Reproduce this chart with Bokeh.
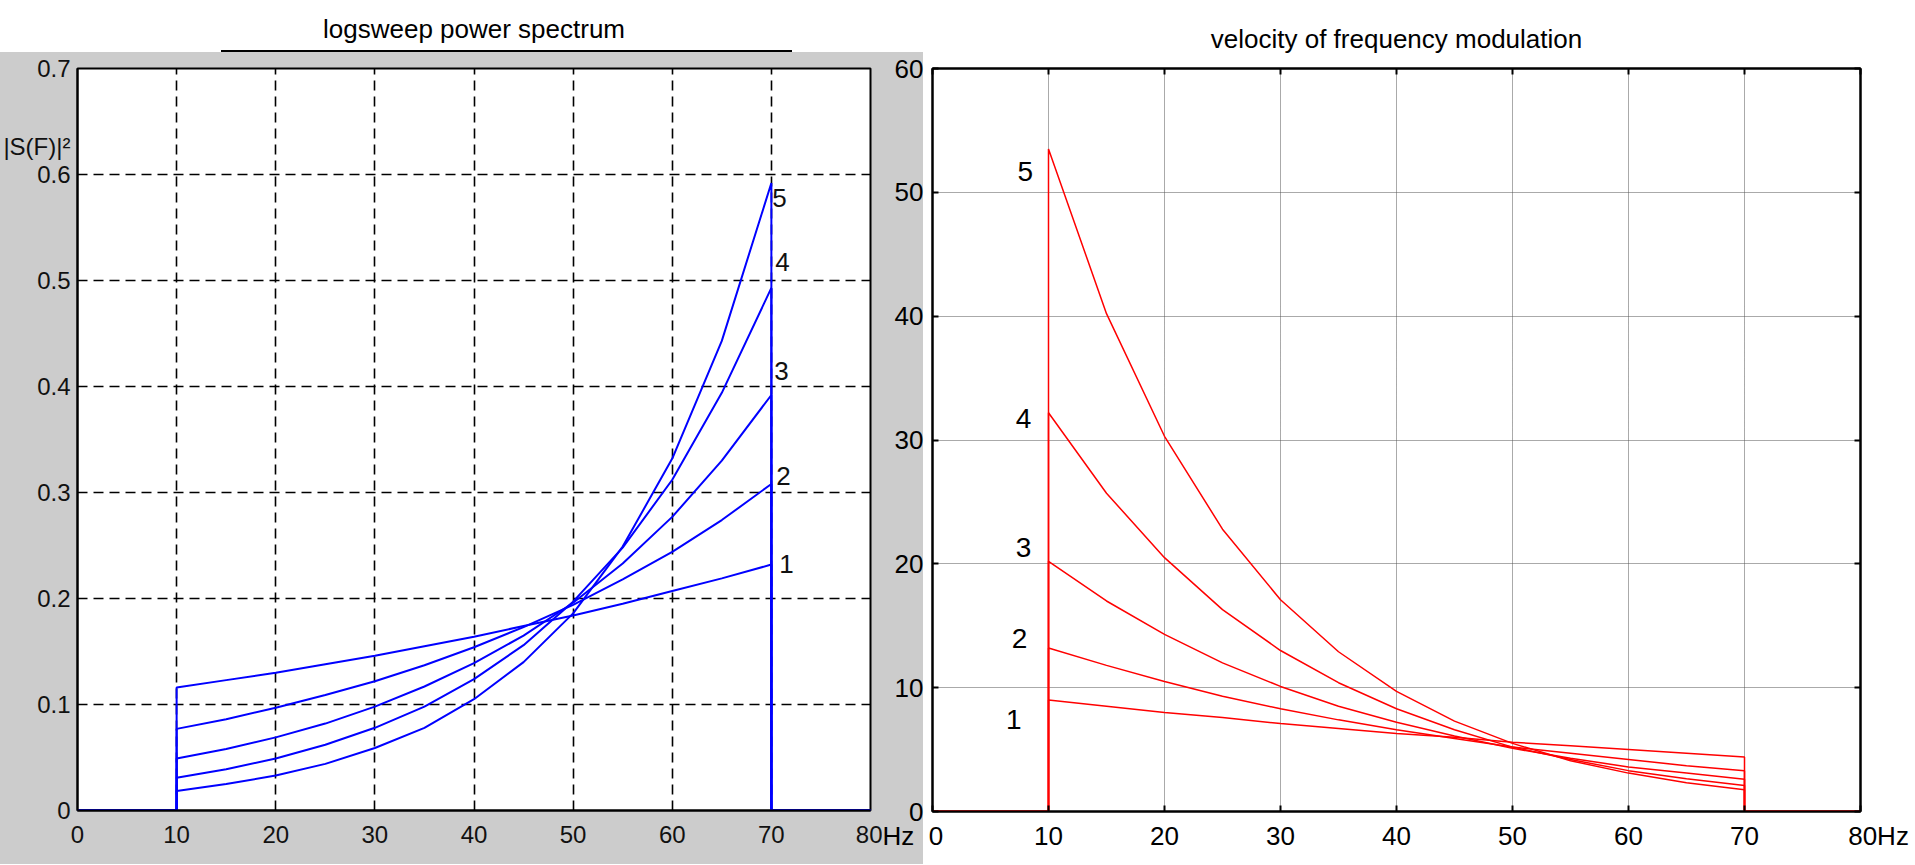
from bokeh.plotting import figure
from bokeh.models import FixedTicker, Label, LinearAxis, Range1d
from bokeh.layouts import row
from bokeh.embed import file_html
from bokeh.resources import INLINE

# ---------------- data ----------------
freq_hz = [10, 15, 20, 25, 30, 35, 40, 45, 50, 55, 60, 65, 70]
band_edges_hz = [0, 80]

power_1 = [0.116, 0.123, 0.130, 0.138, 0.146, 0.155, 0.164, 0.174, 0.184, 0.195, 0.207, 0.219, 0.232]
power_2 = [0.077, 0.086, 0.097, 0.109, 0.122, 0.137, 0.154, 0.173, 0.194, 0.218, 0.244, 0.274, 0.308]
power_3 = [0.049, 0.058, 0.069, 0.082, 0.098, 0.117, 0.139, 0.165, 0.196, 0.233, 0.277, 0.330, 0.392]
power_4 = [0.031, 0.039, 0.049, 0.062, 0.078, 0.098, 0.124, 0.156, 0.197, 0.248, 0.312, 0.394, 0.493]
power_5 = [0.0185, 0.025, 0.033, 0.044, 0.059, 0.078, 0.105, 0.140, 0.186, 0.249, 0.332, 0.443, 0.592]

velocity_1 = [9.0, 8.5, 8.0, 7.6, 7.1, 6.7, 6.3, 6.0, 5.6, 5.3, 5.0, 4.7, 4.4]
velocity_2 = [13.2, 11.8, 10.5, 9.3, 8.3, 7.4, 6.6, 5.9, 5.2, 4.7, 4.2, 3.7, 3.3]
velocity_3 = [20.2, 17.0, 14.3, 12.0, 10.1, 8.5, 7.2, 6.1, 5.1, 4.3, 3.6, 3.1, 2.6]
velocity_4 = [32.2, 25.7, 20.5, 16.3, 13.0, 10.4, 8.3, 6.6, 5.2, 4.2, 3.3, 2.65, 2.1]
velocity_5 = [53.5, 40.2, 30.3, 22.8, 17.1, 12.9, 9.7, 7.3, 5.5, 4.1, 3.1, 2.33, 1.75]

curve_names = ["1", "2", "3", "4", "5"]

x_ticks = [0, 10, 20, 30, 40, 50, 60, 70, 80]
x_tick_labels = ["0", "10", "20", "30", "40", "50", "60", "70", "80"]
power_ticks = [0, 0.1, 0.2, 0.3, 0.4, 0.5, 0.6, 0.7]
power_tick_labels = ["0", "0.1", "0.2", "0.3", "0.4", "0.5", "0.6", "0.7"]
velocity_ticks = [0, 10, 20, 30, 40, 50, 60]
velocity_tick_labels = ["0", "10", "20", "30", "40", "50", "60"]

left_title = "logsweep power spectrum"
right_title = "velocity of frequency modulation"
left_ylabel = "|S(F)|\u00b2"
unit_label = "Hz"

power_curves = [power_1, power_2, power_3, power_4, power_5]
velocity_curves = [velocity_1, velocity_2, velocity_3, velocity_4, velocity_5]

# ---------------- styles ----------------
SANS = "Liberation Sans"
GRAY = "#cccccc"
NBSP = "\u00a0"


def full_path(vals):
    xs = [band_edges_hz[0], freq_hz[0]] + freq_hz + [freq_hz[-1], band_edges_hz[1]]
    ys = [0, 0] + list(vals) + [0, 0]
    return xs, ys


def spacer_axis(ticks, height):
    """An invisible axis that only reserves room between the frame and the title."""
    return LinearAxis(ticker=FixedTicker(ticks=ticks),
                      major_label_overrides={t: "" for t in ticks},
                      major_label_standoff=0, major_tick_in=0, major_tick_out=height,
                      major_tick_line_color=None, minor_tick_line_color=None,
                      axis_line_color=None)


# ---------------- left: power spectrum ----------------
p1 = figure(frame_width=793, frame_height=742,
            x_range=Range1d(x_ticks[0], x_ticks[-1]),
            y_range=Range1d(power_ticks[0], power_ticks[-1]),
            output_backend="svg", toolbar_location=None,
            min_border_left=75, min_border_right=12,
            min_border_top=68, min_border_bottom=54,
            border_fill_color=None, background_fill_color="white",
            outline_line_color="black", outline_line_width=2)

p1.add_layout(spacer_axis(x_ticks, 17), "above")

p1.title.text = left_title
p1.title.align = "center"
p1.title.offset = -10
p1.title.text_font = SANS
p1.title.text_font_size = "26px"
p1.title.text_font_style = "normal"
p1.title.text_color = "black"
p1.title.standoff = 16

# y label of the left panel sits as a horizontal text beside the axis, just under 0.7
ylabel_level = 0.626
p1.below[0].ticker = FixedTicker(ticks=x_ticks)
p1.below[0].major_label_overrides = dict(zip(x_ticks, x_tick_labels))
p1.yaxis.ticker = FixedTicker(ticks=power_ticks + [ylabel_level])
ylab = dict(zip(power_ticks, power_tick_labels))
ylab[ylabel_level] = left_ylabel
p1.yaxis.major_label_overrides = ylab
for ax in (p1.below[0], p1.left[0]):
    ax.major_label_text_font = SANS
    ax.major_label_text_font_size = "24px"
    ax.major_label_text_color = "#111111"
    ax.major_tick_in = 0
    ax.major_tick_out = 0
    ax.minor_tick_line_color = None
    ax.axis_line_color = "black"
    ax.axis_line_width = 2
p1.below[0].major_label_standoff = 15
p1.left[0].major_label_standoff = 7

p1.xgrid.ticker = FixedTicker(ticks=x_ticks)
p1.ygrid.ticker = FixedTicker(ticks=power_ticks)
for g in (p1.xgrid, p1.ygrid):
    g.grid_line_color = "black"
    g.grid_line_dash = "10 6"
    g.grid_line_width = 1.6

for vals in power_curves:
    xs, ys = full_path(vals)
    p1.line(xs, ys, line_color="#0000ff", line_width=2)

power_label_x = [70.8, 70.5, 70.3, 70.4, 70.1]
power_label_y = [0.233, 0.316, 0.415, 0.517, 0.578]
for name, lx, ly in zip(curve_names, power_label_x, power_label_y):
    p1.add_layout(Label(x=lx, y=ly, text=name, text_font=SANS, text_font_size="26px",
                        text_color="#111111", text_align="left", text_baseline="middle"))

# ---------------- right: velocity of frequency modulation ----------------
p2 = figure(frame_width=928, frame_height=743,
            x_range=Range1d(x_ticks[0], x_ticks[-1]),
            y_range=Range1d(velocity_ticks[0], velocity_ticks[-1]),
            output_backend="svg", toolbar_location=None,
            min_border_left=50, min_border_right=56,
            min_border_top=64, min_border_bottom=57,
            border_fill_color=None, background_fill_color="white",
            outline_line_color="black", outline_line_width=2)

top_ticks_axis = LinearAxis()
right_ticks_axis = LinearAxis()
p2.add_layout(top_ticks_axis, "above")
p2.add_layout(spacer_axis(x_ticks, 7), "above")
p2.add_layout(right_ticks_axis, "right")

p2.title.text = right_title
p2.title.align = "center"
p2.title.text_font = SANS
p2.title.text_font_size = "26px"
p2.title.text_font_style = "normal"
p2.title.text_color = "black"
p2.title.standoff = 16

# bottom labels: the "Hz" unit of both panels rides with the first / last labels
bottom_labels = list(x_tick_labels)
bottom_labels[0] = unit_label + NBSP * 2 + x_tick_labels[0] + NBSP * 6
bottom_labels[-1] = NBSP * 5 + x_tick_labels[-1] + unit_label

bottom_axis = p2.below[0]
left_axis = p2.left[0]
for ax in (bottom_axis, top_ticks_axis):
    ax.ticker = FixedTicker(ticks=x_ticks)
for ax in (left_axis, right_ticks_axis):
    ax.ticker = FixedTicker(ticks=velocity_ticks)
bottom_axis.major_label_overrides = dict(zip(x_ticks, bottom_labels))
left_axis.major_label_overrides = dict(zip(velocity_ticks, velocity_tick_labels))
top_ticks_axis.major_label_overrides = {t: "" for t in x_ticks}
right_ticks_axis.major_label_overrides = {t: "" for t in velocity_ticks}
for ax in (bottom_axis, left_axis, top_ticks_axis, right_ticks_axis):
    ax.major_label_text_font = SANS
    ax.major_label_text_font_size = "26px"
    ax.major_label_text_color = "black"
    ax.major_tick_in = 6
    ax.major_tick_out = 0
    ax.major_tick_line_color = "black"
    ax.major_tick_line_width = 2
    ax.minor_tick_line_color = None
    ax.axis_line_color = "black"
    ax.axis_line_width = 2
top_ticks_axis.major_label_standoff = 0
right_ticks_axis.major_label_standoff = 0
bottom_axis.major_label_standoff = 9
left_axis.major_label_standoff = 9

p2.xgrid.ticker = FixedTicker(ticks=x_ticks)
p2.ygrid.ticker = FixedTicker(ticks=velocity_ticks)
for g in (p2.xgrid, p2.ygrid):
    g.grid_line_color = "#555555"
    g.grid_line_dash = "1 1"
    g.grid_line_width = 1

for vals in velocity_curves:
    xs, ys = full_path(vals)
    p2.line(xs, ys, line_color="#ff0000", line_width=1.5)

velocity_label_x = [7.0, 7.5, 7.85, 7.85, 8.0]
velocity_label_y = [7.4, 14.0, 21.3, 31.7, 51.7]
for name, lx, ly in zip(curve_names, velocity_label_x, velocity_label_y):
    p2.add_layout(Label(x=lx, y=ly, text=name, text_font=SANS, text_font_size="28px",
                        text_color="black", text_align="center", text_baseline="middle"))

layout = row(p1, p2, styles={
    "background-color": "white",
    "background-image": "linear-gradient(#000000, #000000), linear-gradient(%s, %s)" % (GRAY, GRAY),
    "background-repeat": "no-repeat, no-repeat",
    "background-position": "221px 50px, 0px 52px",
    "background-size": "571px 2px, 923px 900px",
})

open("out.html", "w").write(file_html(layout, INLINE))
